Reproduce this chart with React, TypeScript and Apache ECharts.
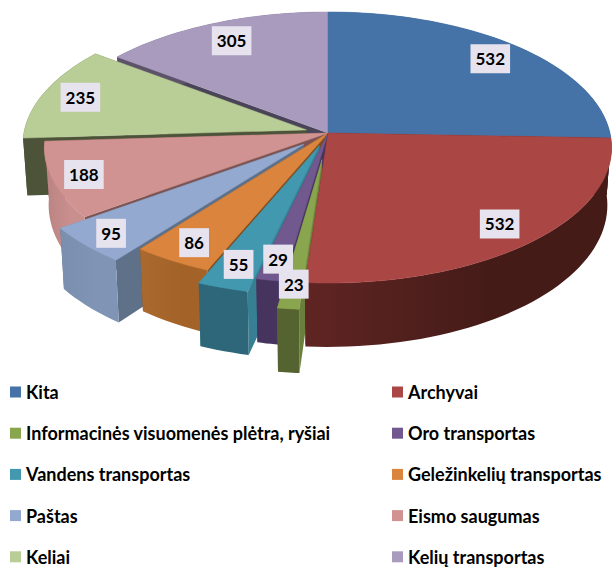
import React, { useEffect, useRef } from "react";
import * as echarts from "echarts";

const categories = [
  "Kita",
  "Archyvai",
  "Informacinės visuomenės plėtra, ryšiai",
  "Oro transportas",
  "Vandens transportas",
  "Geležinkelių transportas",
  "Paštas",
  "Eismo saugumas",
  "Keliai",
  "Kelių transportas",
];
const values = [532, 532, 23, 29, 55, 86, 95, 188, 235, 305];

const explode = [0, 0, 0.2, 0, 0.1, 0, 0.12, 0, 0.08, 0];
const labelRadius = [0.85, 0.85, 0.85, 0.87, 0.85, 0.87, 0.89, 0.89, 0.86, 0.83];
const paintRank = [
  "Kelių transportas",
  "Kita",
  "Keliai",
  "Eismo saugumas",
  "Paštas",
  "Geležinkelių transportas",
  "Vandens transportas",
  "Oro transportas",
  "Informacinės visuomenės plėtra, ryšiai",
  "Archyvai",
];
const topColors = ["#4573a7", "#aa4644", "#89a54e", "#71588f", "#4298af", "#db843d", "#93a9cf", "#d19392", "#b9cd96", "#a99bbd"];
const wallLeft = ["#3a5f8a", "#5f2523", "#54632f", "#46345f", "#2e6779", "#a9692f", "#7a8fae", "#b98382", "#4c5339", "#5d5368"];
const wallRight = ["#2c4a6e", "#451b18", "#54632f", "#46345f", "#2e6779", "#a36228", "#8094b5", "#c98f8e", "#4c5339", "#5d5368"];
const cutColors = ["#2c4a6e", "#451b18", "#6b7f3c", "#46345f", "#377f92", "#7f4e20", "#5f7089", "#7a5352", "#4c5339", "#4a4458"];

const CX = 328, CY = 133, R = 282, K = 134, P = 0.107, H = 57, BASE = 0.985;
const total = values.reduce((a, b) => a + b, 0);

function sliceAngles(i: number) {
  const before = values.slice(0, i).reduce((a, b) => a + b, 0);
  const a0 = (before / total) * Math.PI * 2;
  const a1 = ((before + values[i]) / total) * Math.PI * 2;
  return [a0, a1];
}
function project(a: number, t: number, ox: number, oy: number, low: boolean) {
  const u = Math.sin(a) * t;
  const v = -Math.cos(a) * t;
  const w = 1 - P * v;
  const s = low ? BASE : 1;
  return [CX + (R * u * s) / w + ox, CY + (K * v) / w + (low ? H / w : 0) + oy];
}
function offset(i: number) {
  const [a0, a1] = sliceAngles(i);
  const b = (a0 + a1) / 2;
  return [R * Math.sin(b) * explode[i], -K * Math.cos(b) * explode[i]];
}

function renderSlice(i: number) {
  return () => {
    const [a0, a1] = sliceAngles(i);
    const [ox, oy] = offset(i);
    const n = Math.max(6, Math.ceil(((a1 - a0) * 180) / Math.PI / 2));
    const topRim: number[][] = [];
    const lowRim: number[][] = [];
    for (let k = 0; k <= n; k++) {
      const a = a0 + ((a1 - a0) * k) / n;
      topRim.push(project(a, 1, ox, oy, false));
      lowRim.push(project(a, 1, ox, oy, true));
    }
    const apexTop = [CX + ox, CY + oy];
    const apexLow = [CX + ox, CY + H + oy];
    const cut = cutColors[i];
    const wallFill = new echarts.graphic.LinearGradient(0, 0, 1, 0, [
      { offset: 0, color: wallLeft[i] },
      { offset: 0.6, color: wallRight[i] },
      { offset: 1, color: wallRight[i] },
    ]);
    return {
      type: "group",
      children: [
        { type: "polygon", shape: { points: [apexTop, topRim[0], lowRim[0], apexLow] }, style: { fill: cut } },
        { type: "polygon", shape: { points: [apexTop, topRim[n], lowRim[n], apexLow] }, style: { fill: cut } },
        { type: "polygon", shape: { points: [...topRim, ...lowRim.slice().reverse()] }, style: { fill: wallFill } },
        {
          type: "polygon",
          shape: { points: [apexTop, ...topRim] },
          style: { fill: topColors[i], stroke: topColors[i], lineWidth: 0.5 },
        },
      ],
    };
  };
}

function renderLabel(params: any, api: any) {
  const i = params.dataIndex;
  const [a0, a1] = sliceAngles(i);
  const [ox, oy] = offset(i);
  const [x, y] = project((a0 + a1) / 2, labelRadius[i], ox, oy, false);
  return {
    type: "text",
    x,
    y,
    style: {
      text: String(api.value(0)),
      align: "center",
      verticalAlign: "middle",
      fill: "#000",
      font: "bold 17px Lato",
      lineHeight: 19,
      backgroundColor: "#e7e3ee",
      padding: [5, 5],
    },
  };
}

const legendText = { fontFamily: "Lato", fontWeight: "bold" as const, fontSize: 18, color: "#000" };

export default function App() {
  const ref = useRef<HTMLDivElement>(null);
  useEffect(() => {
    const chart = echarts.init(ref.current!, null, { renderer: "svg" });
    const legendBase = {
      orient: "vertical" as const,
      top: 383,
      itemWidth: 11,
      itemHeight: 11,
      itemGap: 23.2,
      selectedMode: false,
      icon: "rect",
      textStyle: legendText,
      padding: 0,
    };
    chart.setOption({
      animation: false,
      backgroundColor: "#fff",
      legend: [
        { ...legendBase, left: 10, data: categories.filter((_, i) => i % 2 === 0) },
        { ...legendBase, left: 392, data: categories.filter((_, i) => i % 2 === 1) },
      ],
      series: [
        ...categories.map((name, i) => ({
          type: "custom",
          name,
          coordinateSystem: "none",
          silent: true,
          z: 2 + paintRank.indexOf(name),
          itemStyle: { color: topColors[i] },
          data: [[values[i]]],
          renderItem: renderSlice(i),
        })),
        {
          type: "custom",
          name: "labels",
          coordinateSystem: "none",
          silent: true,
          z: 50,
          data: values.map((v) => [v]),
          renderItem: renderLabel,
        },
      ],
    });
    return () => chart.dispose();
  }, []);
  return <div ref={ref} style={{ position: "absolute", left: 0, top: 0, width: 612, height: 567 }} />;
}
